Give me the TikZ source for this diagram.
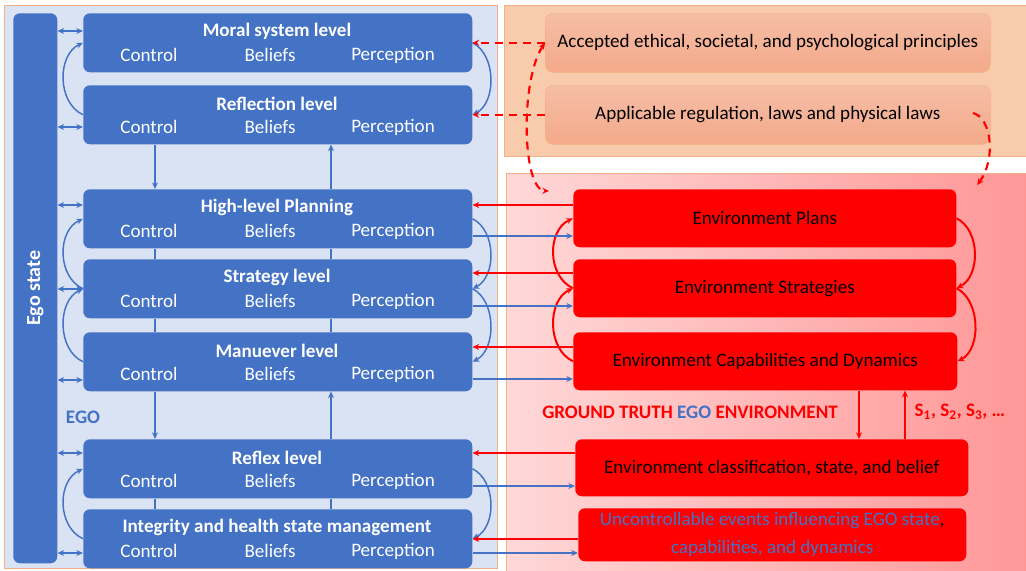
\documentclass[tikz,border=0pt]{standalone}
\usepackage{fontspec}
\setmainfont{Carlito}
\usetikzlibrary{arrows.meta}

\definecolor{egoblue}{HTML}{4472C4}
\definecolor{egopanel}{HTML}{DAE3F3}
\definecolor{lawfill}{HTML}{F8CBAD}
\definecolor{lawline}{HTML}{F4B183}
\definecolor{lawtop}{HTML}{F5BEA6}
\definecolor{lawbot}{HTML}{F4A98A}
\definecolor{envlight}{HTML}{FFD8D8}
\definecolor{envdark}{HTML}{FF9797}

\tikzset{
  lvl/.style={fill=egoblue, rounded corners=5pt, minimum width=291.75pt,
    minimum height=44.25pt, anchor=north west, inner sep=0},
  ttl/.style={text=white, font=\bfseries\fontsize{14.3}{16}\selectfont},
  sub/.style={text=white, font=\fontsize{14.3}{16}\selectfont},
  env/.style={fill=red, rounded corners=5pt, anchor=north west, inner sep=0,
    font=\fontsize{14.3}{21}\selectfont, align=center},
  law/.style={top color=lawtop, bottom color=lawbot, draw=lawline, rounded corners=6pt,
    anchor=north west, inner sep=0, minimum width=333.75pt, minimum height=44.25pt,
    font=\fontsize{14.3}{16}\selectfont},
  bl/.style={egoblue, line width=1.1pt},
  rd/.style={red, line width=1.5pt},
  dsh/.style={red, line width=1.6pt, dash pattern=on 6pt off 4.5pt},
  >={Stealth[length=5pt,width=4.5pt]}
}

\begin{document}
\begin{tikzpicture}[x=0.75pt,y=-0.75pt]
  \useasboundingbox (0,0) rectangle (1026,571);

  % panels
  \draw[lawline, fill=egopanel] (4,5) rectangle (497,568);
  \draw[lawline, fill=lawfill] (504,5) rectangle (1026,156);
  \draw[lawline, left color=envlight, right color=envdark] (506,173) rectangle (1026,571);

  \node[fill=egoblue, rounded corners=5pt, anchor=north west, inner sep=0,
    minimum width=33pt, minimum height=412.5pt] (ego) at (13,13) {};
  \node[rotate=90, text=white, font=\bfseries\fontsize{15}{16}\selectfont] (ego-t) at (ego.center) {Ego state};

  % ego levels
  \foreach \n/\y/\t in {moral/13/Moral system level, refl/85/Reflection level,
      plan/189/High-level Planning, strat/259/Strategy level, man/332/Manuever level,
      reflex/439/Reflex level, integ/509/Integrity and health state management}{
    \node[lvl] (\n) at (83,\y) {};
    \node[ttl] (\n-t) at (277,{\y+18.5}) {\t};
    \node[sub] (\n-c) at (149,{\y+42}) {Control};
    \node[sub] (\n-b) at (270,{\y+42}) {Beliefs};
    \node[sub] (\n-p) at (393,{\y+42}) {Perception};
  }
  \node[text=egoblue, font=\bfseries\fontsize{14.3}{16}\selectfont] (ego-l) at (83,417) {EGO};

  % principles and laws
  \node[law] (accepted) at (545,13) {Accepted ethical, societal, and psychological principles};
  \node[law] (applic) at (545,85) {Applicable regulation, laws and physical laws};

  % environment
  \node[env, minimum width=287.25pt, minimum height=43.5pt] (eplan) at (573,189) {Environment Plans};
  \node[env, minimum width=287.25pt, minimum height=43.5pt] (estrat) at (573,259) {Environment Strategies};
  \node[env, minimum width=288pt, minimum height=43.5pt] (ecap) at (573,332) {Environment Capabilities and Dynamics};
  \node[env, minimum width=294.75pt, minimum height=42.75pt] (eclass) at (575,439) {Environment classification, state, and belief};
  \node[env, minimum width=291pt, minimum height=39.75pt] (eunc) at (578,508)
    {\textcolor{egoblue}{Uncontrollable events influencing EGO state},\\\textcolor{egoblue}{capabilities, and dynamics}};

  \node[text=red, font=\bfseries\fontsize{14.3}{16}\selectfont] (truth) at (690,412)
    {GROUND TRUTH \textcolor{egoblue}{EGO} ENVIRONMENT};
  \node[text=red, anchor=west, font=\bfseries\fontsize{14.3}{16}\selectfont] (sig) at (910,412)
    {S\textsubscript{1}, S\textsubscript{2}, S\textsubscript{3}, \dots};

  % ego state links
  \foreach \n/\y in {moral/31, refl/127, plan/205, strat/289, man/380, reflex/453, integ/553}
    \draw[bl,<->] (ego.east |- 0,\y) -- (\n.west |- 0,\y);

  % loops between levels
  \foreach \a/\b in {refl/moral, strat/plan, man/strat, integ/reflex}
    \draw[bl,->] (\a.west) .. controls +(-26,-12) and +(-26,12) .. (\b.west);
  \foreach \a/\b in {moral/refl, plan/strat, strat/man, reflex/integ}
    \draw[bl,->] (\a.east) .. controls +(24,12) and +(24,-12) .. (\b.east);
  \foreach \a/\b in {estrat/eplan, ecap/estrat}
    \draw[rd,->] (\a.west) .. controls +(-26,-12) and +(-26,12) .. (\b.west);
  \foreach \a/\b in {eplan/estrat, estrat/ecap}
    \draw[rd,->] (\a.east) .. controls +(24,12) and +(24,-12) .. (\b.east);

  % vertical links
  \draw[bl,->] (refl.south -| 155,0) -- (plan.north -| 155,0);
  \draw[bl,->] (plan.north -| 331,0) -- (refl.south -| 331,0);
  \draw[bl,->] (man.south -| 155,0) -- (reflex.north -| 155,0);
  \draw[bl,->] (reflex.north -| 331,0) -- (man.south -| 331,0);
  \foreach \a/\b in {plan/strat, strat/man, reflex/integ}{
    \draw[bl] (\a.south -| 155,0) -- (\b.north -| 155,0);
    \draw[bl] (\a.south -| 331,0) -- (\b.north -| 331,0);
  }
  \draw[rd,->] (ecap.south -| 859,0) -- (eclass.north -| 859,0);
  \draw[rd,->] (eclass.north -| 905,0) -- (ecap.south -| 905,0);

  % environment <-> ego
  \foreach \e/\n/\y in {eplan/plan/205, estrat/strat/273, ecap/man/347, eclass/reflex/453, eunc/integ/539}
    \draw[rd,->] (\e.west |- 0,\y) -- (\n.east |- 0,\y);
  \foreach \n/\e/\y in {plan/eplan/236, strat/estrat/306, man/ecap/379, reflex/eclass/486, integ/eunc/553}
    \draw[bl,->] (\n.east |- 0,\y) -- (\e.west |- 0,\y);

  % principles and laws
  \coordinate (envin) at (549,191);
  \coordinate (lawout) at (973,113);
  \coordinate (envinr) at (977,185);
  \draw[dsh,->] (accepted.west) -- (moral.east);
  \draw[dsh,->] (applic.west) -- (refl.east);
  \draw[dsh,<->] (accepted.west) .. controls (520,80) and (522,190) .. (envin);
  \draw[dsh,->] (lawout) .. controls (992,118) and (996,160) .. (envinr);
\end{tikzpicture}
\end{document}
